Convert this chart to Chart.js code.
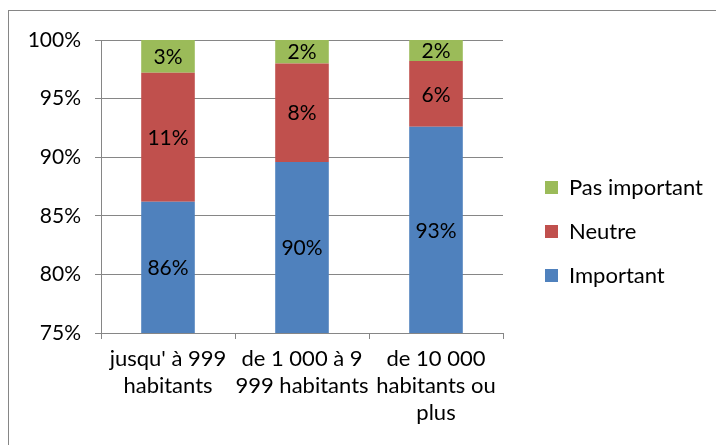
<!DOCTYPE html>
<html>
<head>
<meta charset="utf-8">
<script src="https://cdn.jsdelivr.net/npm/chart.js@4"></script>
<style>
    html, body { margin: 0; padding: 0; background: #fff; }
    #wrap { width: 716px; height: 445px; position: relative; }
</style>
</head>
<body>
<div id="wrap"><canvas id="chart"></canvas></div>
<script>
let categories = [
    ["jusqu' à 999", "habitants"],
    ["de 1 000 à 9", "999 habitants"],
    ["de 10 000", "habitants ou", "plus"]
];
let important = [86.2, 89.6, 92.6];
let neutre = [11.0, 8.4, 5.6];
let pasImportant = [2.8, 2.0, 1.8];

let fontFamily = "Lato, 'Open Sans', sans-serif";
let fontSize = 21;
let gridColor = '#868686';

// thin frame around the whole chart, like the spreadsheet object
let framePlugin = {
    id: 'frame',
    beforeDraw(chart) {
        let ctx = chart.ctx;
        ctx.save();
        ctx.strokeStyle = '#868686';
        ctx.lineWidth = 1;
        ctx.strokeRect(8.5, 10.5, 720, 450);
        ctx.restore();
    }
};

// fixed legend column width, items pushed a bit right and up
let legendFix = {
    id: 'legendFix',
    beforeLayout(chart) {
        let lg = chart.legend;
        if (lg && !lg.patched) {
            let origFit = lg.fit;
            lg.fit = function () {
                origFit.call(this);
                this.width = 213;
            };
            lg.patched = true;
        }
    },
    afterLayout(chart) {
        let lg = chart.legend;
        if (!lg) return;
        lg.left += 20;
        lg.top -= 11;
        lg.bottom -= 11;
    }
};

// percent labels centred in each stacked segment
let segmentLabels = {
    id: 'segmentLabels',
    afterDatasetsDraw(chart) {
        let ctx = chart.ctx;
        ctx.save();
        ctx.font = fontSize + 'px ' + fontFamily;
        ctx.fillStyle = '#000';
        ctx.textAlign = 'center';
        ctx.textBaseline = 'middle';
        chart.data.datasets.forEach(function (ds, i) {
            let meta = chart.getDatasetMeta(i);
            meta.data.forEach(function (bar, j) {
                let top = Math.max(bar.y, chart.chartArea.top);
                let bottom = Math.min(bar.base, chart.chartArea.bottom);
                ctx.fillText(Math.round(ds.data[j]) + '%', bar.x, (top + bottom) / 2 + 1);
            });
        });
        ctx.restore();
    }
};

let ctx = document.getElementById('chart').getContext('2d');
let chart = new Chart(ctx, {
    type: 'bar',
    data: {
        labels: categories,
        datasets: [
            { label: 'Important', data: important, backgroundColor: '#4F81BD' },
            { label: 'Neutre', data: neutre, backgroundColor: '#C0504D' },
            { label: 'Pas important', data: pasImportant, backgroundColor: '#9BBB59' }
        ]
    },
    options: {
        responsive: true,
        maintainAspectRatio: false,
        animation: false,
        categoryPercentage: 0.4,
        barPercentage: 1,
        layout: { padding: { top: 40, right: 0, bottom: 0, left: 0 } },
        scales: {
            x: {
                stacked: true,
                grid: { drawOnChartArea: false, drawTicks: true, tickLength: 6, color: gridColor, offset: true },
                border: { color: gridColor, width: 1 },
                ticks: {
                    color: '#000',
                    font: { family: fontFamily, size: 22, lineHeight: 1.23 },
                    padding: 6,
                    maxRotation: 0,
                    autoSkip: false
                },
                afterFit(scale) { scale.height = 112; }
            },
            y: {
                stacked: true,
                min: 75,
                max: 100,
                grid: { color: gridColor, tickLength: 6 },
                border: { color: gridColor, width: 1 },
                ticks: {
                    stepSize: 5,
                    color: '#000',
                    font: { family: fontFamily, size: fontSize },
                    padding: 14,
                    callback: function (v) { return v + '%'; }
                },
                afterFit(scale) { scale.width = 101; }
            }
        },
        plugins: {
            legend: {
                position: 'right',
                reverse: true,
                labels: {
                    boxWidth: 13,
                    boxHeight: 13,
                    padding: 22,
                    color: '#000',
                    font: { family: fontFamily, size: 22 }
                }
            },
            tooltip: { enabled: false }
        }
    },
    plugins: [framePlugin, legendFix, segmentLabels]
});
</script>
</body>
</html>
